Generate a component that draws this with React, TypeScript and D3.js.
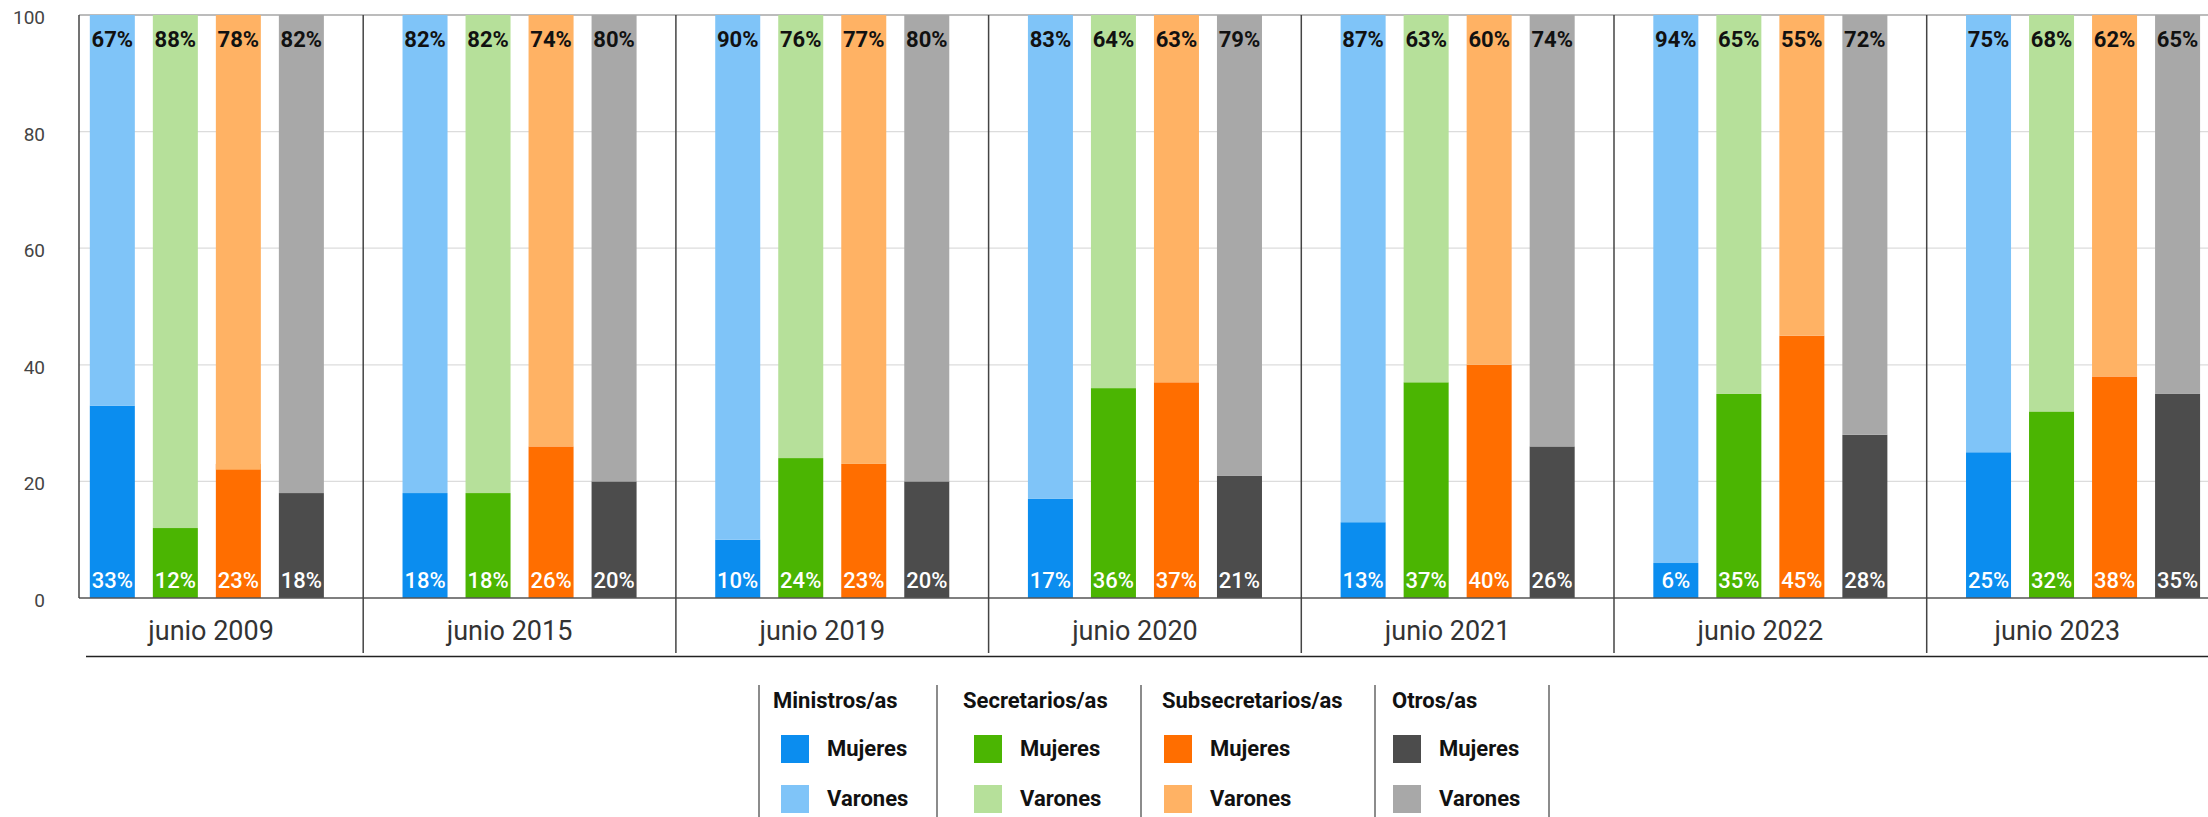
import * as d3 from 'd3';

const years = ['junio 2009', 'junio 2015', 'junio 2019', 'junio 2020', 'junio 2021', 'junio 2022', 'junio 2023'];
const categories = ['Ministros/as', 'Secretarios/as', 'Subsecretarios/as', 'Otros/as'];

const ministrosMujeres = [33, 18, 10, 17, 13, 6, 25];
const ministrosVarones = [67, 82, 90, 83, 87, 94, 75];
const secretariosMujeres = [12, 18, 24, 36, 37, 35, 32];
const secretariosVarones = [88, 82, 76, 64, 63, 65, 68];
const subsecretariosMujeres = [23, 26, 23, 37, 40, 45, 38];
const subsecretariosVarones = [78, 74, 77, 63, 60, 55, 62];
const otrosMujeres = [18, 20, 20, 21, 26, 28, 35];
const otrosVarones = [82, 80, 80, 79, 74, 72, 65];

const yTicks = [0, 20, 40, 60, 80, 100];

const mujeresColors = ['#0b8def', '#4bb502', '#ff6e00', '#4c4c4c'];
const varonesColors = ['#7fc4f8', '#b6e09a', '#ffb264', '#a8a8a8'];

const W = 2208;
const H = 817;
const FONT = 'Roboto, "Noto Sans", sans-serif';

export default function App() {
  const mujeres = [ministrosMujeres, secretariosMujeres, subsecretariosMujeres, otrosMujeres];
  const varones = [ministrosVarones, secretariosVarones, subsecretariosVarones, otrosVarones];

  const axisLeft = 79;
  const y = d3.scaleLinear().domain([0, 100]).range([598, 15]);

  const groupStart = 50.5;
  const groupStep = 312.7;
  const x = d3
    .scaleBand()
    .domain(years)
    .range([groupStart, groupStart + groupStep * years.length])
    .paddingInner(0)
    .paddingOuter(0);

  const inner = d3
    .scaleBand()
    .domain(categories)
    .range([0, x.bandwidth()])
    .paddingInner(18 / 63)
    .paddingOuter(0.624);

  // legend layout
  const legendLines = [759, 937, 1141, 1375, 1549];
  const legendHeaderX = [773, 963, 1162, 1392];
  const legendSwatchX = [781, 974, 1164, 1393];

  return (
    <svg
      width={W}
      height={H}
      style={{ position: 'absolute', left: 0, top: 0, background: '#fff' }}
      fontFamily={FONT}
    >
      {/* grid */}
      {yTicks
        .filter((t) => t > 0 && t < 100)
        .map((t) => (
          <line key={t} x1={axisLeft} x2={W} y1={y(t)} y2={y(t)} stroke="#dcdcdc" strokeWidth={1.2} />
        ))}
      <line x1={axisLeft} x2={W} y1={y(100)} y2={y(100)} stroke="#a6a6a6" strokeWidth={1.5} />

      {/* bars */}
      {years.map((yr, i) => (
        <g key={yr} transform={`translate(${x(yr)},0)`}>
          {categories.map((c, j) => {
            const bx = inner(c) || 0;
            const m = mujeres[j][i];
            const v = varones[j][i];
            const bw = inner.bandwidth();
            return (
              <g key={c}>
                <rect x={bx} width={bw} y={y(m)} height={y(0) - y(m)} fill={mujeresColors[j]} />
                <rect x={bx} width={bw} y={y(100)} height={y(100 - v) - y(100)} fill={varonesColors[j]} />
                <text
                  x={bx + bw / 2}
                  y={47}
                  textAnchor="middle"
                  fontSize={22}
                  fontWeight={700}
                  fill="#111"
                >
                  {v}%
                </text>
                <text
                  x={bx + bw / 2}
                  y={588}
                  textAnchor="middle"
                  fontSize={22}
                  fontWeight={500}
                  fill="#fff"
                >
                  {m}%
                </text>
              </g>
            );
          })}
        </g>
      ))}

      {/* axes */}
      <line x1={axisLeft} x2={W} y1={y(0)} y2={y(0)} stroke="#555" strokeWidth={1.5} />
      <line x1={axisLeft} x2={axisLeft} y1={y(100)} y2={y(0)} stroke="#444" strokeWidth={1.5} />
      {yTicks.map((t) => (
        <text key={t} x={45} y={y(t)} dy={9} textAnchor="end" fontSize={19} fill="#444">
          {t}
        </text>
      ))}

      {/* group dividers */}
      {years.slice(1).map((yr) => (
        <line key={yr} x1={x(yr)} x2={x(yr)} y1={y(100)} y2={653} stroke="#444" strokeWidth={1.5} />
      ))}
      <line x1={86} x2={W} y1={656.5} y2={656.5} stroke="#222" strokeWidth={1.5} />

      {/* group labels */}
      {years.map((yr) => {
        const x0 = Math.max(x(yr) || 0, axisLeft);
        const x1 = Math.min((x(yr) || 0) + x.bandwidth(), W);
        return (
          <text key={yr} x={(x0 + x1) / 2 - 10} y={640} textAnchor="middle" fontSize={27} fill="#333">
            {yr}
          </text>
        );
      })}

      {/* legend */}
      {legendLines.map((lx) => (
        <line key={lx} x1={lx} x2={lx} y1={685} y2={H} stroke="#666" strokeWidth={1.5} />
      ))}
      {categories.map((c, j) => (
        <g key={c}>
          <text x={legendHeaderX[j]} y={708} fontSize={22} fontWeight={700} fill="#111">
            {c}
          </text>
          <rect x={legendSwatchX[j]} y={735} width={28} height={28} fill={mujeresColors[j]} />
          <text x={legendSwatchX[j] + 46} y={756} fontSize={22} fontWeight={700} fill="#111">
            Mujeres
          </text>
          <rect x={legendSwatchX[j]} y={785} width={28} height={28} fill={varonesColors[j]} />
          <text x={legendSwatchX[j] + 46} y={806} fontSize={22} fontWeight={700} fill="#111">
            Varones
          </text>
        </g>
      ))}
    </svg>
  );
}
